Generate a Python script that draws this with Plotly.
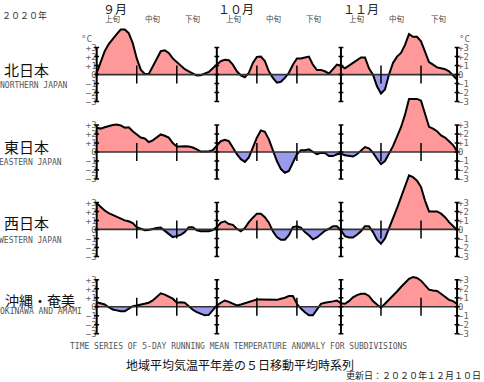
import plotly.graph_objects as go

# ---------------- data ----------------
days = list(range(91))  # 0 = Sep 1, 90 = Nov 30 (2020)

north = [0.2, 1.3, 2.6, 3.4, 4.0, 4.5, 5.0, 5.0, 4.6, 3.5,
         1.8, 0.55, 0.07, 0.07, 0.9, 1.8, 2.6, 2.7, 2.4, 1.8,
         1.4, 1.0, 0.6, 0.37, 0.1, -0.1, -0.07, 0.1, 0.3, 0.7,
         1.1, 1.5, 1.65, 1.6, 1.1, 0.37, -0.1, -0.3, 0.2, 1.3,
         1.95, 2.0, 1.5, 0.37, -0.37, -0.9, -0.8, -0.37, 0.2, 1.1,
         1.8, 1.8, 1.9, 2.0, 1.1, 0.5, 0.5, 0.37, 0.1, 0.55,
         1.1, 1.0, 0.7, 1.0, 1.3, 1.55, 1.9, 1.9, 0.7, 0.0,
         -1.3, -2.1, -1.65, 0.0, 1.3, 2.0, 2.4, 3.3, 4.5, 4.2,
         4.2, 3.7, 2.6, 1.4, 1.1, 0.8, 0.7, 0.6, 0.37, -0.07,
         -0.55]

east = [2.7, 2.6, 2.75, 2.9, 3.0, 3.05, 2.95, 2.7, 2.75, 2.3,
        1.95, 1.6, 1.5, 1.1, 1.3, 1.65, 1.95, 1.8, 1.6, 1.0,
        0.6, 0.6, 0.65, 0.6, 0.5, 0.3, 0.05, 0.05, 0.05, 0.2,
        0.65, 1.2, 1.35, 1.2, 0.5, -0.25, -0.8, -1.1, -0.6, 0.5,
        1.6, 2.4, 2.25, 1.4, 0.1, -1.0, -1.9, -2.3, -2.1, -1.2,
        -0.25, 0.2, 0.2, 0.3, 0.05, -0.25, -0.1, -0.1, -0.45, -0.45,
        -0.25, -0.2, -0.35, -0.45, -0.5, -0.25, 0.2, 0.55, 0.4, -0.07,
        -0.75, -1.35, -1.0, -0.2, 0.65, 1.7, 2.75, 4.15, 5.9, 5.9,
        5.9, 5.7, 4.2, 2.8, 2.6, 2.3, 1.85, 1.6, 1.2, 0.77,
        0.1]

west = [2.9, 2.45, 2.1, 1.8, 1.6, 1.45, 1.2, 1.0, 0.9, 0.7,
        0.25, 0.07, -0.1, -0.07, 0.07, 0.15, 0.2, -0.15, -0.5, -0.85,
        -0.75, -0.6, -0.3, 0.25, 0.25, -0.1, -0.2, -0.2, -0.2, -0.07,
        0.25, 0.75, 0.9, 0.6, 0.5, 0.07, -0.2, 0.15, 0.8, 1.3,
        1.75, 1.75, 1.35, 0.75, -0.2, -0.85, -1.15, -1.15, -0.65, 0.25,
        0.35, 0.2, -0.3, -0.65, -1.1, -0.9, -0.5, -0.15, 0.07, 0.35,
        0.35, -0.1, -0.75, -0.9, -0.9, -0.6, -0.2, 0.35, 0.35, -0.3,
        -1.15, -1.6, -1.0, 0.07, 1.2, 2.35, 3.55, 4.85, 6.0, 5.8,
        5.4, 4.7, 3.2, 2.0, 2.0, 2.0, 1.75, 1.35, 0.8, 0.35,
        -0.07]

okinawa = [0.5, 0.4, 0.25, -0.05, -0.3, -0.4, -0.5, -0.5, -0.2, 0.07,
           0.15, 0.25, 0.33, 0.45, 0.7, 1.15, 1.5, 1.35, 1.15, 0.9,
           0.45, 0.5, 0.45, 0.05, -0.33, -0.6, -0.77, -0.95, -0.9, -0.4,
           0.15, 0.45, 0.7, 0.55, 0.33, 0.15, 0.25, 0.4, 0.5, 0.7,
           0.8, 0.8, 0.8, 0.8, 0.85, 0.77, 0.9, 1.0, 1.2, 1.2,
           0.33, -0.2, -0.6, -0.95, -0.95, -0.3, 0.33, 0.45, 0.5, 0.6,
           0.7, 0.4, 0.33, 0.63, 1.05, 1.3, 1.45, 1.45, 1.2, 0.63,
           0.25, -0.1, 0.33, 0.77, 1.2, 1.7, 2.2, 2.6, 3.1, 3.3,
           3.2, 2.9, 2.35, 1.9, 1.8, 1.75, 1.45, 1.15, 0.77, 0.63,
           0.33]

region_ja = ["北日本", "東日本", "西日本", "沖縄・奄美"]
region_en = ["NORTHERN JAPAN", "EASTERN JAPAN", "WESTERN JAPAN", "OKINAWA AND AMAMI"]
series = [north, east, west, okinawa]

month_labels = ["９月", "１０月", "１１月"]
month_label_days = [4.5, 34.8, 66.0]
dekad_labels = ["上旬", "中旬", "下旬"] * 3
dekad_label_days = [4, 14, 24, 34.2, 44.3, 54.3, 65, 75, 85.6]
month_axis_days = [0, 30, 61, 90]
dekad_tick_days = [10, 20, 40, 50, 71, 81]
ytick_vals = [-3, -2, -1, 0, 1, 2, 3]
ytick_text = ["\u22123", "\u22122", "\u22121", "0", "+1", "+2", "+3"]

year_label = "２０２０年"
unit_label = "°C"
title_en = "TIME SERIES OF 5-DAY RUNNING MEAN TEMPERATURE ANOMALY FOR SUBDIVISIONS"
title_ja = "地域平均気温平年差の５日移動平均時系列"
updated = "更新日：２０２０年１２月１０日"

# ---------------- layout geometry ----------------
W, H = 484, 382
X0_PX, PX_PER_DAY = 96.7, 4.004
XR = [-1.5, 91.5]
zero_px = [75.0, 152.8, 230.6, 308.4]
UNIT_PX = 9.05
YR = [-3.4, 6.5]

PINK = "#FF9898"
BLUE = "#9A9AEE"
JP_FONT = "Noto Sans CJK JP"
MONO = "DejaVu Sans Mono"


def px_x(d):
    return X0_PX + PX_PER_DAY * d


def split_sign(x, y):
    """Return positive and negative parts with zero-crossing points inserted."""
    px_, py_, nx_, ny_ = [], [], [], []
    for i in range(len(x)):
        if i > 0:
            y0, y1 = y[i - 1], y[i]
            if (y0 > 0 and y1 < 0) or (y0 < 0 and y1 > 0):
                xc = x[i - 1] + (x[i] - x[i - 1]) * (y0 / (y0 - y1))
                px_.append(xc); py_.append(0)
                nx_.append(xc); ny_.append(0)
        px_.append(x[i]); py_.append(max(y[i], 0))
        nx_.append(x[i]); ny_.append(min(y[i], 0))
    return px_, py_, nx_, ny_


fig = go.Figure()
shapes = []
layout_axes = {}

x_dom = [px_x(XR[0]) / W, px_x(XR[1]) / W]

for i, vals in enumerate(series):
    yname = "y" if i == 0 else f"y{i + 1}"
    ykey = "yaxis" if i == 0 else f"yaxis{i + 1}"
    rkey = f"yaxis{i + 5}"
    zb = H - zero_px[i]
    dom = [(zb + YR[0] * UNIT_PX) / H, (zb + YR[1] * UNIT_PX) / H]

    pxs, pys, nxs, nys = split_sign(days, vals)
    fig.add_trace(go.Scatter(x=pxs, y=pys, yaxis=yname, mode="lines",
                             line=dict(width=0), fill="tozeroy",
                             fillcolor=PINK, hoverinfo="skip", showlegend=False))
    fig.add_trace(go.Scatter(x=nxs, y=nys, yaxis=yname, mode="lines",
                             line=dict(width=0), fill="tozeroy",
                             fillcolor=BLUE, hoverinfo="skip", showlegend=False))
    fig.add_trace(go.Scatter(x=days, y=vals, yaxis=yname, mode="lines",
                             line=dict(color="black", width=2),
                             name=region_ja[i], showlegend=False))

    common = dict(range=YR, domain=dom, showgrid=False, zeroline=False,
                  showline=False, ticks="", tickvals=ytick_vals,
                  ticktext=ytick_text, anchor="free",
                  tickfont=dict(family=MONO, size=9, color="#666"))
    layout_axes[ykey] = dict(common, side="left", position=px_x(0) / W)
    layout_axes[rkey] = dict(common, side="right", position=px_x(90) / W,
                             overlaying=yname)
    # invisible trace so the right-hand axis renders its labels
    fig.add_trace(go.Scatter(x=[days[0]], y=[0], yaxis=f"y{i + 5}", mode="markers",
                             marker=dict(opacity=0), hoverinfo="skip", showlegend=False))

    # zero line
    shapes.append(dict(type="line", xref="x", yref=yname, x0=0, x1=90, y0=0, y1=0,
                       line=dict(color="#333", width=1.6)))
    # month axes with cross ticks
    for d in month_axis_days:
        shapes.append(dict(type="line", xref="x", yref=yname, x0=d, x1=d, y0=-3, y1=3,
                           line=dict(color="black", width=2)))
        for k in ytick_vals:
            shapes.append(dict(type="line", xref="x", yref=yname, x0=d - 0.6, x1=d + 0.6,
                               y0=k, y1=k, line=dict(color="black", width=1.5)))
    # dekad ticks
    for d in dekad_tick_days:
        shapes.append(dict(type="line", xref="x", yref=yname, x0=d, x1=d, y0=-1, y1=1,
                           line=dict(color="black", width=1.5)))

annotations = []


def ann(text, x, y, size, color="#222", family=JP_FONT, xref="paper", xanchor="center"):
    annotations.append(dict(text=text, x=x if xref == "x" else x / W, y=1 - y / H,
                            xref=xref, yref="paper", showarrow=False,
                            xanchor=xanchor, yanchor="middle", borderpad=0,
                            font=dict(family=family, size=size, color=color)))


ann(year_label, 24, 16, 9, color="#333")
for t, d in zip(month_labels, month_label_days):
    ann(t, d, 8.7, 12, xref="x")
for t, d in zip(dekad_labels, dekad_label_days):
    ann(t, d, 19, 7.5, color="#444", xref="x")
ann(unit_label, 86, 39, 9, color="#666", family=MONO)
ann(unit_label, 464, 39, 9, color="#666", family=MONO)

ja_pos = [(26, 70), (26, 147), (26, 224), (40, 302)]
ja_size = [15, 15, 15, 14]
en_pos = [(34, 86), (31, 163), (31, 242), (41, 313)]
for i in range(4):
    ann(region_ja[i], ja_pos[i][0], ja_pos[i][1], ja_size[i], color="#111")
    ann(region_en[i], en_pos[i][0], en_pos[i][1], 8, color="#555", family=MONO)

ann(title_en, 238, 348, 8, color="#555", family=MONO)
ann(title_ja, 240, 366, 12, color="#111")
ann(updated, 482, 377, 9, color="#222", xanchor="right")

fig.update_layout(
    width=W, height=H,
    margin=dict(l=0, r=0, t=0, b=0),
    paper_bgcolor="white", plot_bgcolor="rgba(0,0,0,0)",
    xaxis=dict(range=XR, domain=x_dom, visible=False),
    shapes=shapes, annotations=annotations,
    **layout_axes,
)

fig.write_html("out.html",
               config=dict(displayModeBar=False),
               post_script="document.body.style.margin='0';document.body.style.overflow='hidden';")
